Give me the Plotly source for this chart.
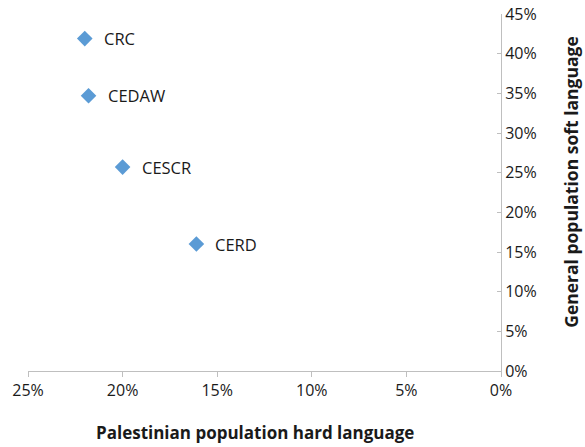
import plotly.graph_objects as go

# Treaty bodies and their shares of hard / soft language
treaties = ["CRC", "CEDAW", "CESCR", "CERD"]
palestinian_hard = [0.220, 0.218, 0.200, 0.161]
general_soft = [0.419, 0.347, 0.257, 0.160]

x_ticks = [0.25, 0.20, 0.15, 0.10, 0.05, 0.0]
y_ticks = [0.0, 0.05, 0.10, 0.15, 0.20, 0.25, 0.30, 0.35, 0.40, 0.45]

x_title = "Palestinian population hard language"
y_title = "General population soft language"

FONT = "Open Sans, Liberation Sans, sans-serif"
TXT = "#1a1a1a"
AXIS = "#bfbfbf"

fig = go.Figure()
fig.add_trace(go.Scatter(
    x=palestinian_hard, y=general_soft, mode="markers",
    marker=dict(symbol="diamond", size=12, color="#5b9bd5"),
    showlegend=False, hoverinfo="text", text=treaties,
))

for name, xv, yv in zip(treaties, palestinian_hard, general_soft):
    fig.add_annotation(x=xv, y=yv, text=name, showarrow=False,
                       xanchor="left", yanchor="middle", xshift=17,
                       font=dict(family=FONT, size=16.5, color=TXT))

# Axis titles placed in paper coordinates
fig.add_annotation(text=f"<b>{x_title}</b>", xref="paper", yref="paper",
                   x=0.48, y=0, yshift=-61, xanchor="center", yanchor="middle",
                   showarrow=False, font=dict(family=FONT, size=17, color=TXT))
fig.add_annotation(text=f"<b>{y_title}</b>", xref="paper", yref="paper",
                   x=1, y=0.53, xshift=70, xanchor="center", yanchor="middle",
                   textangle=-90, showarrow=False,
                   font=dict(family=FONT, size=17.5, color=TXT))

fig.update_layout(
    width=585, height=447,
    margin=dict(l=28, r=84, t=14, b=76),
    paper_bgcolor="white", plot_bgcolor="white",
    font=dict(family=FONT, size=16, color=TXT),
    xaxis=dict(
        range=[0.25, 0.0], tickvals=x_ticks, tickformat=".0%",
        showgrid=False, zeroline=False, showline=True, linecolor=AXIS, linewidth=1,
        ticks="outside", ticklen=5, tickcolor=AXIS, automargin=False,
        tickfont=dict(family=FONT, size=16, color=TXT),
    ),
    yaxis=dict(
        range=[0.0, 0.45], tickvals=y_ticks, tickformat=".0%", side="right",
        showgrid=False, zeroline=False, showline=True, linecolor=AXIS, linewidth=1,
        ticks="inside", ticklen=4, tickcolor=AXIS, automargin=False,
        tickfont=dict(family=FONT, size=16, color=TXT),
    ),
)

fig.write_html("out.html")
